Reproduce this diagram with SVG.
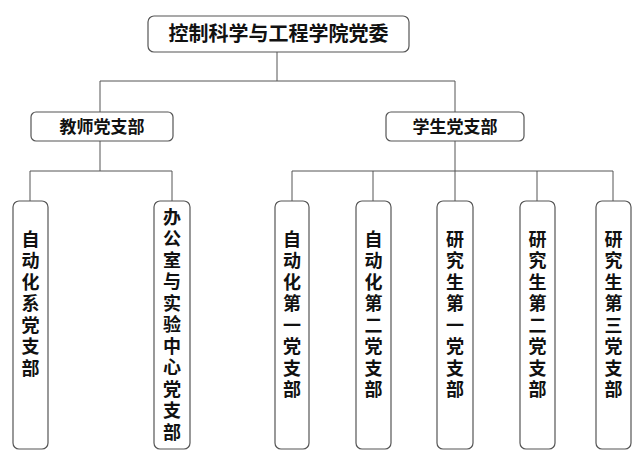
<svg xmlns="http://www.w3.org/2000/svg" width="639" height="462" viewBox="0 0 639 462">
<style>
.b{fill:#fff;stroke:#555;stroke-width:1.2}
.t{font-family:"Noto Sans CJK SC",sans-serif;font-weight:bold;fill:#111}
.v{font-family:"Noto Sans CJK SC",sans-serif;font-weight:bold;fill:#111;font-size:18px;writing-mode:vertical-rl;letter-spacing:3.5px}
.c{stroke:#555;stroke-width:1;fill:none}
</style>
<rect width="639" height="462" fill="#fff"/>
<g id="connectors" class="c">
<path d="M277 52V81M100 81H455M100 81V112M455 81V112"/>
<path d="M100 141V171M30 171H172M30 171V201M172 171V201"/>
<path d="M455 141V201M292 171H613M292 171V201M373 171V201M537 171V201M613 171V201"/>
</g>
<g id="root"><rect class="b" x="148" y="16" width="261" height="36" rx="6"/><text class="t" x="278.5" y="41" font-size="20" text-anchor="middle">控制科学与工程学院党委</text></g>
<g id="teacher"><rect class="b" x="31" y="112" width="142" height="29" rx="5"/><text class="t" x="102" y="133" font-size="17" text-anchor="middle">教师党支部</text></g>
<g id="student"><rect class="b" x="386" y="112" width="138" height="29" rx="5"/><text class="t" x="455" y="133" font-size="17" text-anchor="middle">学生党支部</text></g>
<g id="n1"><rect class="b" x="13" y="201" width="35" height="248" rx="6"/><text class="v" x="30.5" y="230">自动化系党支部</text></g>
<g id="n2"><rect class="b" x="154" y="201" width="36" height="248" rx="6"/><text class="v" x="172" y="208">办公室与实验中心党支部</text></g>
<g id="n3"><rect class="b" x="275" y="201" width="34" height="248" rx="6"/><text class="v" x="292" y="230">自动化第一党支部</text></g>
<g id="n4"><rect class="b" x="356" y="201" width="35" height="248" rx="6"/><text class="v" x="373.5" y="230">自动化第二党支部</text></g>
<g id="n5"><rect class="b" x="437" y="201" width="36" height="248" rx="6"/><text class="v" x="455" y="230">研究生第一党支部</text></g>
<g id="n6"><rect class="b" x="520" y="201" width="35" height="248" rx="6"/><text class="v" x="537.5" y="230">研究生第二党支部</text></g>
<g id="n7"><rect class="b" x="596" y="201" width="35" height="248" rx="6"/><text class="v" x="613.5" y="230">研究生第三党支部</text></g>
</svg>
